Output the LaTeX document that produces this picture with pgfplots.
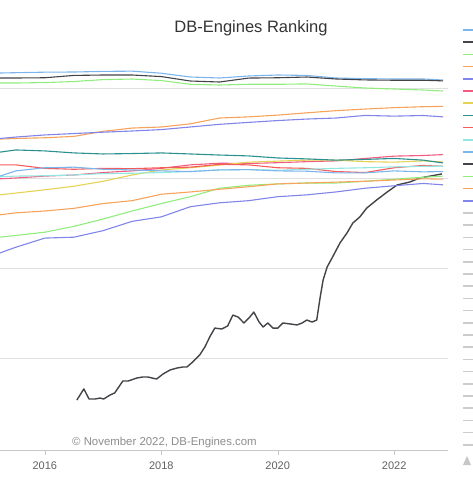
\documentclass[border=0pt]{standalone}
\usepackage{pgfplots}
\pgfplotsset{compat=1.18}
\usepackage{fontspec}
\setmainfont{Liberation Sans}
\definecolor{hc1}{HTML}{7CB5EC}
\definecolor{hc2}{HTML}{434348}
\definecolor{hc3}{HTML}{90ED7D}
\definecolor{hc4}{HTML}{F7A35C}
\definecolor{hc5}{HTML}{8085E9}
\definecolor{hc6}{HTML}{F15C80}
\definecolor{hc7}{HTML}{E4D354}
\definecolor{hc8}{HTML}{2B908F}
\definecolor{hc9}{HTML}{F45B5B}
\definecolor{hc10}{HTML}{91E8E1}
\definecolor{legendgrey}{HTML}{CCCCCC}
\begin{document}
\begin{tikzpicture}
\useasboundingbox (0pt,-27pt) rectangle (473pt,450pt);
\begin{axis}[
  at={(0pt,0pt)}, anchor=south west,
  scale only axis, width=448pt, height=405pt,
  xmin=2015.23, xmax=2022.925,
  ymode=log, ymin=0.095, ymax=3006,
  axis x line*=bottom, axis y line*=left,
  y axis line style={draw=none},
  x axis line style={draw=black!22, -},
  ytick={1,10,100,1000}, yticklabels={}, ytick style={draw=none},
  ymajorgrids, major grid style={draw=black!12, line width=0.6pt},
  xtick={2016,2018,2020,2022}, xticklabels={2016,2018,2020,2022},
  xtick style={draw=black!22}, tick align=outside, major tick length=5pt,
  xticklabel style={font=\fontsize{11}{13}\selectfont, text=black!62, anchor=base, yshift=-15pt},
  every axis plot/.append style={line width=1.1pt, line join=round},
  no markers,
]
% Oracle
\addplot[hc1] coordinates {(2015.23,1468)(2015.5,1480)(2016,1500)(2016.5,1506)(2017,1530)(2017.5,1540)(2018,1460)(2018.5,1325)(2019,1292)(2019.5,1360)(2020,1395)(2020.5,1380)(2021,1292)(2021.5,1270)(2022,1260)(2022.5,1260)(2022.84,1227)};
% MySQL
\addplot[hc2] coordinates {(2015.23,1292)(2015.5,1292)(2016,1300)(2016.5,1380)(2017,1395)(2017.5,1395)(2018,1340)(2018.5,1196)(2019,1166)(2019.5,1290)(2020,1300)(2020.5,1325)(2021,1260)(2021.5,1230)(2022,1220)(2022.5,1220)(2022.84,1200)};
% SQL Server
\addplot[hc3] coordinates {(2015.23,1136)(2015.5,1136)(2016,1150)(2016.5,1180)(2017,1240)(2017.5,1259)(2018,1210)(2018.5,1100)(2019,1080)(2019.5,1100)(2020,1100)(2020.5,1110)(2021,1052)(2021.5,1000)(2022,975)(2022.5,950)(2022.84,926)};
% PostgreSQL
\addplot[hc4] coordinates {(2015.23,271)(2015.5,275)(2016,280)(2016.5,290)(2017,330)(2017.5,359)(2018,369)(2018.5,400)(2019,464)(2019.5,478)(2020,500)(2020.5,530)(2021,560)(2021.5,584)(2022,605)(2022.5,620)(2022.84,625)};
% MongoDB
\addplot[hc5] coordinates {(2015.23,275)(2015.5,285)(2016,301)(2016.5,312)(2017,323)(2017.5,333)(2018,345)(2018.5,369)(2019,395)(2019.5,415)(2020,435)(2020.5,452)(2021,464)(2021.5,496)(2022,487)(2022.5,495)(2022.84,478)};
% Redis
\addplot[hc6] coordinates {(2015.23,98)(2015.5,100)(2016,105)(2016.5,108)(2017,115)(2017.5,120)(2018,128)(2018.5,140)(2019,146)(2019.5,145)(2020,148)(2020.5,152)(2021,155)(2021.5,165)(2022,175)(2022.5,178)(2022.84,182)};
% Elasticsearch
\addplot[hc7] coordinates {(2015.23,65)(2015.5,68)(2016,74)(2016.5,81)(2017,92)(2017.5,108)(2018,123)(2018.5,130)(2019,139)(2019.5,150)(2020,154)(2020.5,158)(2021,158)(2021.5,152)(2022,150)(2022.5,155)(2022.84,151)};
% IBM Db2
\addplot[hc8] coordinates {(2015.23,194)(2015.5,205)(2016,200)(2016.5,190)(2017,185)(2017.5,187)(2018,190)(2018.5,185)(2019,180)(2019.5,176)(2020,167)(2020.5,163)(2021,158)(2021.5,161)(2022,165)(2022.5,158)(2022.84,147)};
% Microsoft Access
\addplot[hc9] coordinates {(2015.23,140)(2015.5,140)(2016,128)(2016.5,125)(2017,128)(2017.5,127)(2018,130)(2018.5,132)(2019,142)(2019.5,140)(2020,130)(2020.5,128)(2021,118)(2021.5,115)(2022,130)(2022.5,138)(2022.84,135)};
% SQLite
\addplot[hc10] coordinates {(2015.23,103)(2015.5,105)(2016,106)(2016.5,108)(2017,112)(2017.5,113)(2018,115)(2018.5,118)(2019,123)(2019.5,124)(2020,122)(2020.5,125)(2021,128)(2021.5,130)(2022,133)(2022.5,135)(2022.84,135)};
% Cassandra
\addplot[hc1] coordinates {(2015.23,105)(2015.5,120)(2016,130)(2016.5,132)(2017,125)(2017.5,123)(2018,120)(2018.5,118)(2019,123)(2019.5,124)(2020,120)(2020.5,119)(2021,114)(2021.5,114)(2022,120)(2022.5,117)(2022.84,118)};
% Snowflake
\addplot[hc2, line width=1.4pt] coordinates {(2016.55,0.341)(2016.67,0.453)(2016.76,0.350)(2016.86,0.350)(2016.95,0.359)(2017.01,0.350)(2017.12,0.388)(2017.20,0.409)(2017.34,0.555)(2017.43,0.555)(2017.58,0.599)(2017.68,0.615)(2017.77,0.615)(2017.92,0.584)(2018.03,0.664)(2018.15,0.736)(2018.27,0.774)(2018.37,0.794)(2018.44,0.794)(2018.54,0.903)(2018.66,1.08)(2018.75,1.33)(2018.84,1.75)(2018.92,2.15)(2019.04,2.10)(2019.14,2.27)(2019.23,3.00)(2019.32,2.85)(2019.42,2.45)(2019.52,2.85)(2019.59,3.24)(2019.68,2.51)(2019.75,2.21)(2019.83,2.45)(2019.92,2.15)(2020.00,2.15)(2020.09,2.45)(2020.21,2.39)(2020.33,2.33)(2020.42,2.45)(2020.50,2.64)(2020.59,2.51)(2020.67,2.64)(2020.73,4.76)(2020.78,7.36)(2020.85,10.3)(2020.93,12.8)(2021.07,19.0)(2021.19,24.5)(2021.29,31.6)(2021.41,36.9)(2021.53,46.4)(2021.70,57.0)(2021.88,69.9)(2022.05,83.6)(2022.27,90.3)(2022.44,100)(2022.62,105)(2022.82,111)};
% MariaDB
\addplot[hc3] coordinates {(2015.23,22)(2015.5,23)(2016,25)(2016.5,29)(2017,35)(2017.5,43)(2018,52)(2018.5,62)(2019,77)(2019.5,83)(2020,86)(2020.5,88)(2021,88)(2021.5,92)(2022,97)(2022.5,102)(2022.84,105)};
% Splunk
\addplot[hc4] coordinates {(2015.23,39)(2015.5,41)(2016,43)(2016.5,46)(2017,52)(2017.5,56)(2018,66)(2018.5,70)(2019,75)(2019.5,80)(2020,86)(2020.5,88)(2021,90)(2021.5,92)(2022,95)(2022.5,98)(2022.84,97)};
% Amazon DynamoDB
\addplot[hc5] coordinates {(2015.23,14.7)(2015.5,17)(2016,21.5)(2016.5,22)(2017,26)(2017.5,33)(2018,37)(2018.5,48)(2019,53)(2019.5,56)(2020,62)(2020.5,65)(2021,70)(2021.5,77)(2022,82)(2022.5,87)(2022.84,84)};
\end{axis}
% title and credit
\node[anchor=base, text=black!80, font=\fontsize{16.5}{19}\selectfont] at (251pt,417pt) {DB-Engines Ranking};
\node[anchor=base west, inner sep=0pt, text=black!45, font=\fontsize{11.4}{13}\selectfont] at (72pt,5pt) {© November 2022, DB-Engines.com};
% legend symbols (names cut off at the right edge)
\foreach \c [count=\k from 0] in {hc1,hc2,hc3,hc4,hc5,hc6,hc7,hc8,hc9,hc10,hc1,hc2,hc3,hc4,hc5} {
  \draw[\c, line width=1.5pt] (463pt,{(420-12.2*\k)*1pt}) -- (480pt,{(420-12.2*\k)*1pt});
}
\foreach \k in {15,...,34} {
  \draw[legendgrey, line width=1.5pt] (463pt,{(420-12.2*\k)*1pt}) -- (480pt,{(420-12.2*\k)*1pt});
}
\fill[black!22] (463pt,-15pt) -- (471pt,-15pt) -- (467pt,-6pt) -- cycle;
\end{tikzpicture}
\end{document}
